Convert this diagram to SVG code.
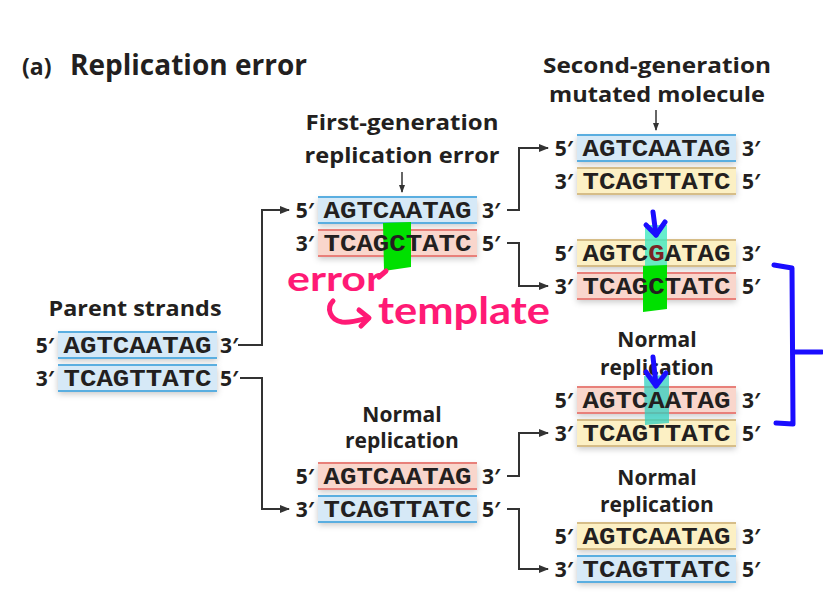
<svg xmlns="http://www.w3.org/2000/svg" width="823" height="609" viewBox="0 0 823 609">
<defs>
<style>
.lbl{font-family:"Open Sans","Noto Sans","Liberation Sans",sans-serif;font-weight:bold;fill:#231f20;font-size:21px}
.end{font-family:"Open Sans","Noto Sans","Liberation Sans",sans-serif;font-weight:bold;fill:#231f20;font-size:21px}
.dna{font-family:"Liberation Mono","DejaVu Sans Mono",monospace;font-weight:bold;fill:#231f20;font-size:24px}
.bb{fill:#d6e9f7}.bl{stroke:#5aaee0;stroke-width:2}
.pb{fill:#f9d6cc}.pl{stroke:#e8807a;stroke-width:2}
.yb{fill:#fcf0c4}.yl{stroke:#d6bd88;stroke-width:2}
.con{fill:none;stroke:#333;stroke-width:2}
.pink{fill:none;stroke:#ff1a75;stroke-width:5;stroke-linecap:round;stroke-linejoin:round}
.blue{fill:none;stroke:#1a0dff;stroke-width:5;stroke-linecap:round;stroke-linejoin:round}
.hand{font-family:"Lato","Noto Sans",sans-serif;font-weight:bold;fill:#ff1a75}
</style>
<filter id="sh" x="-10%" y="-30%" width="120%" height="180%">
<feDropShadow dx="0" dy="3" stdDeviation="3" flood-color="#000" flood-opacity="0.22"/>
</filter>
<marker id="ah" markerUnits="userSpaceOnUse" markerWidth="10" markerHeight="8" refX="9" refY="4" orient="auto">
<path d="M0,0 L10,4 L0,8 z" fill="#333"/>
</marker>
<marker id="ahs" markerUnits="userSpaceOnUse" markerWidth="8" markerHeight="6" refX="7" refY="3" orient="auto">
<path d="M0,0 L8,3 L0,6 z" fill="#333"/>
</marker>
</defs>
<rect width="823" height="609" fill="#fff"/>

<g id="title">
<text x="22" y="75" class="lbl" style="font-size:23px">(a)</text>
<text x="70" y="75" class="lbl" style="font-size:28px" textLength="237" lengthAdjust="spacingAndGlyphs">Replication error</text>
</g>

<g id="connectors">
<path class="con" d="M238,345 H262 V210 H289" marker-end="url(#ah)"/>
<path class="con" d="M240,378 H262 V509 H289" marker-end="url(#ah)"/>
<path class="con" d="M507,210 H519 V148 H548" marker-end="url(#ah)"/>
<path class="con" d="M507,243 H519 V286 H548" marker-end="url(#ah)"/>
<path class="con" d="M507,476 H519 V433 H548" marker-end="url(#ah)"/>
<path class="con" d="M507,509 H519 V569 H548" marker-end="url(#ah)"/>
<path class="con" style="stroke-width:1.5" d="M402,172 V192" marker-end="url(#ahs)"/>
<path class="con" style="stroke-width:1.5" d="M656,110 V130" marker-end="url(#ahs)"/>
</g>

<g id="parent">
<text x="135" y="316" class="lbl" text-anchor="middle" textLength="173" lengthAdjust="spacingAndGlyphs">Parent strands</text>
<rect x="58" y="332" width="159" height="26" class="bb" filter="url(#sh)"/>
<line x1="58" y1="332" x2="217" y2="332" class="bl"/><line x1="58" y1="358" x2="217" y2="358" class="bl"/>
<rect x="58" y="365" width="159" height="26" class="bb" filter="url(#sh)"/>
<line x1="58" y1="365" x2="217" y2="365" class="bl"/><line x1="58" y1="391" x2="217" y2="391" class="bl"/>
<text x="137.5" y="353" class="dna" text-anchor="middle" textLength="148" lengthAdjust="spacingAndGlyphs">AGTCAATAG</text>
<text x="137.5" y="386" class="dna" text-anchor="middle" textLength="148" lengthAdjust="spacingAndGlyphs">TCAGTTATC</text>
<text x="54" y="353" class="end" text-anchor="end">5′</text>
<text x="54" y="386" class="end" text-anchor="end">3′</text>
<text x="220" y="353" class="end">3′</text>
<text x="220" y="386" class="end">5′</text>
</g>

<g id="first-error">
<text x="402" y="130" class="lbl" text-anchor="middle" textLength="193" lengthAdjust="spacingAndGlyphs">First-generation</text>
<text x="402" y="163" class="lbl" text-anchor="middle" textLength="195" lengthAdjust="spacingAndGlyphs">replication error</text>
<rect x="318" y="197" width="159" height="26" class="bb" filter="url(#sh)"/>
<line x1="318" y1="197" x2="477" y2="197" class="bl"/><line x1="318" y1="223" x2="477" y2="223" class="bl"/>
<rect x="318" y="230" width="159" height="26" class="pb" filter="url(#sh)"/>
<line x1="318" y1="230" x2="477" y2="230" class="pl"/><line x1="318" y1="256" x2="477" y2="256" class="pl"/>
<polygon points="383,223 411,222 411,267 384,271" fill="#00e000"/>
<text x="397.5" y="218" class="dna" text-anchor="middle" textLength="148" lengthAdjust="spacingAndGlyphs">AGTCAATAG</text>
<text x="397.5" y="251" class="dna" text-anchor="middle" textLength="148" lengthAdjust="spacingAndGlyphs">TCAGCTATC</text>
<text x="314" y="218" class="end" text-anchor="end">5′</text>
<text x="314" y="251" class="end" text-anchor="end">3′</text>
<text x="482" y="218" class="end">3′</text>
<text x="482" y="251" class="end">5′</text>
</g>

<g id="first-normal">
<text x="402" y="422" class="lbl" text-anchor="middle">Normal</text>
<text x="402" y="448" class="lbl" text-anchor="middle">replication</text>
<rect x="318" y="463" width="159" height="26" class="pb" filter="url(#sh)"/>
<line x1="318" y1="463" x2="477" y2="463" class="pl"/><line x1="318" y1="489" x2="477" y2="489" class="pl"/>
<rect x="318" y="496" width="159" height="26" class="bb" filter="url(#sh)"/>
<line x1="318" y1="496" x2="477" y2="496" class="bl"/><line x1="318" y1="522" x2="477" y2="522" class="bl"/>
<text x="397.5" y="484" class="dna" text-anchor="middle" textLength="148" lengthAdjust="spacingAndGlyphs">AGTCAATAG</text>
<text x="397.5" y="517" class="dna" text-anchor="middle" textLength="148" lengthAdjust="spacingAndGlyphs">TCAGTTATC</text>
<text x="314" y="484" class="end" text-anchor="end">5′</text>
<text x="314" y="517" class="end" text-anchor="end">3′</text>
<text x="482" y="484" class="end">3′</text>
<text x="482" y="517" class="end">5′</text>
</g>

<g id="second-mutated">
<text x="657" y="73" class="lbl" text-anchor="middle" textLength="228" lengthAdjust="spacingAndGlyphs">Second-generation</text>
<text x="657" y="102" class="lbl" text-anchor="middle" textLength="216" lengthAdjust="spacingAndGlyphs">mutated molecule</text>
<rect x="577" y="135" width="159" height="26" class="bb" filter="url(#sh)"/>
<line x1="577" y1="135" x2="736" y2="135" class="bl"/><line x1="577" y1="161" x2="736" y2="161" class="bl"/>
<rect x="577" y="168" width="159" height="26" class="yb" filter="url(#sh)"/>
<line x1="577" y1="168" x2="736" y2="168" class="yl"/><line x1="577" y1="194" x2="736" y2="194" class="yl"/>
<text x="656.5" y="156" class="dna" text-anchor="middle" textLength="148" lengthAdjust="spacingAndGlyphs">AGTCAATAG</text>
<text x="656.5" y="189" class="dna" text-anchor="middle" textLength="148" lengthAdjust="spacingAndGlyphs">TCAGTTATC</text>
<text x="573" y="156" class="end" text-anchor="end">5′</text>
<text x="573" y="189" class="end" text-anchor="end">3′</text>
<text x="742" y="156" class="end">3′</text>
<text x="742" y="189" class="end">5′</text>
</g>

<g id="second-template">
<rect x="577" y="240" width="159" height="26" class="yb" filter="url(#sh)"/>
<line x1="577" y1="240" x2="736" y2="240" class="yl"/><line x1="577" y1="266" x2="736" y2="266" class="yl"/>
<rect x="577" y="273" width="159" height="26" class="pb" filter="url(#sh)"/>
<line x1="577" y1="273" x2="736" y2="273" class="pl"/><line x1="577" y1="299" x2="736" y2="299" class="pl"/>
<rect x="645" y="225" width="22" height="41" fill="#40e8c0" opacity="0.8"/>
<polygon points="643,266 667,265 667,309 643,312" fill="#00e000"/>
<text x="656.5" y="261" class="dna" text-anchor="middle" textLength="148" lengthAdjust="spacingAndGlyphs">AGTC<tspan fill="#7a2424">G</tspan>ATAG</text>
<text x="656.5" y="294" class="dna" text-anchor="middle" textLength="148" lengthAdjust="spacingAndGlyphs">TCAGCTATC</text>
<text x="573" y="261" class="end" text-anchor="end">5′</text>
<text x="573" y="294" class="end" text-anchor="end">3′</text>
<text x="742" y="261" class="end">3′</text>
<text x="742" y="294" class="end">5′</text>
</g>

<g id="second-normal-a">
<text x="657" y="347" class="lbl" text-anchor="middle">Normal</text>
<text x="657" y="375" class="lbl" text-anchor="middle">replication</text>
<rect x="577" y="387" width="159" height="26" class="pb" filter="url(#sh)"/>
<line x1="577" y1="387" x2="736" y2="387" class="pl"/><line x1="577" y1="413" x2="736" y2="413" class="pl"/>
<rect x="577" y="420" width="159" height="26" class="yb" filter="url(#sh)"/>
<line x1="577" y1="420" x2="736" y2="420" class="yl"/><line x1="577" y1="446" x2="736" y2="446" class="yl"/>
<polygon points="644,376 669,375 669,423 645,425" fill="#30d0c0" opacity="0.75"/>
<text x="656.5" y="408" class="dna" text-anchor="middle" textLength="148" lengthAdjust="spacingAndGlyphs">AGTCAATAG</text>
<text x="656.5" y="441" class="dna" text-anchor="middle" textLength="148" lengthAdjust="spacingAndGlyphs">TCAGTTATC</text>
<text x="573" y="408" class="end" text-anchor="end">5′</text>
<text x="573" y="441" class="end" text-anchor="end">3′</text>
<text x="742" y="408" class="end">3′</text>
<text x="742" y="441" class="end">5′</text>
</g>

<g id="second-normal-b">
<text x="657" y="485" class="lbl" text-anchor="middle">Normal</text>
<text x="657" y="512" class="lbl" text-anchor="middle">replication</text>
<rect x="577" y="523" width="159" height="26" class="yb" filter="url(#sh)"/>
<line x1="577" y1="523" x2="736" y2="523" class="yl"/><line x1="577" y1="549" x2="736" y2="549" class="yl"/>
<rect x="577" y="556" width="159" height="26" class="bb" filter="url(#sh)"/>
<line x1="577" y1="556" x2="736" y2="556" class="bl"/><line x1="577" y1="582" x2="736" y2="582" class="bl"/>
<text x="656.5" y="544" class="dna" text-anchor="middle" textLength="148" lengthAdjust="spacingAndGlyphs">AGTCAATAG</text>
<text x="656.5" y="577" class="dna" text-anchor="middle" textLength="148" lengthAdjust="spacingAndGlyphs">TCAGTTATC</text>
<text x="573" y="544" class="end" text-anchor="end">5′</text>
<text x="573" y="577" class="end" text-anchor="end">3′</text>
<text x="742" y="544" class="end">3′</text>
<text x="742" y="577" class="end">5′</text>
</g>

<g id="annotations">
<text x="287" y="291" class="hand" style="font-size:34px" textLength="95" lengthAdjust="spacingAndGlyphs">error</text>
<path class="pink" d="M379,277 L386,271"/>
<path class="pink" d="M333,301 C326,308 330,320 342,322 C352,323 360,320 368,318"/>
<path class="pink" d="M359,310 L369,318 L361,326"/>
<text x="378" y="324" class="hand" style="font-size:38px" textLength="172" lengthAdjust="spacingAndGlyphs">template</text>
<path class="blue" d="M653,212 L656,235"/>
<path class="blue" d="M646,225 L656,235 L665,222"/>
<path class="blue" d="M653,357 L656,385"/>
<path class="blue" d="M646,372 L656,386 L666,373"/>
<path class="blue" d="M774,265 L792,268 L793,424 L776,423"/>
<path class="blue" d="M793,352 L822,352"/>
</g>
</svg>
